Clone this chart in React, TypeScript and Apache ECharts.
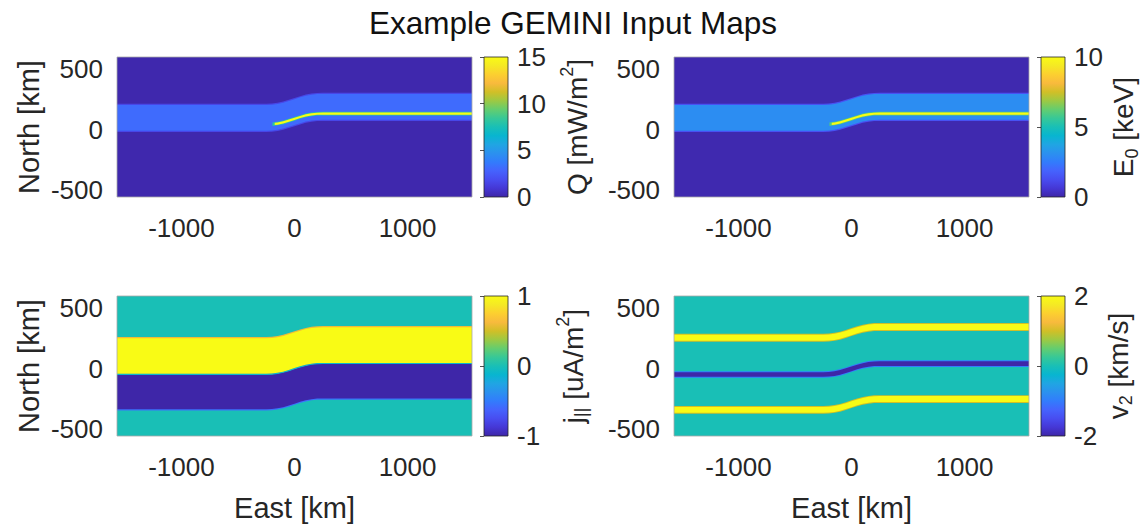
import React, { useEffect, useRef } from "react";
import * as echarts from "echarts";

// ---- axes ----
const eastMin = -1570;
const eastMax = 1570;
const northMin = -555;
const northMax = 600;
const eastTicks = [-1000, 0, 1000];
const northTicks = [-500, 0, 500];

// ---- arc boundary northward displacement vs. east ----
const shiftEast = [-1570, -250, -200, -150, -100, -50, 0, 50, 100, 150, 200, 250, 1570];
const shiftNorth = [0, 0, 2, 8, 18, 32, 47, 62, 75, 84, 89, 90, 90];

// ---- layers per map (north edges on the west side, value, first east position) ----
// Q [mW/m^2]
const qLower = [-2000, -18, -8, 28, 34];
const qUpper = [2000, 215, 205, 58, 52];
const qValue = [0.1, 1.6, 3.1, 8, 15];
const qStart = [-1570, -1570, -1570, -195, -175];
// E0 [keV]
const eLower = [-2000, -18, -8, 28, 34];
const eUpper = [2000, 215, 205, 58, 52];
const eValue = [0.1, 1.4, 3.0, 6, 10];
const eStart = [-1570, -1570, -1570, -195, -175];
// j_par [uA/m^2]
const jLower = [-2000, -345, -335, -48, -42, -52];
const jUpper = [2000, -48, -48, 262, 252, -42];
const jValue = [0, -0.55, -1, 0.6, 1, -0.1];
const jStart = [-1570, -1570, -1570, -1570, -1570, -1570];
// v2 [km/s]
const vLower = [-2000, 222, 230, -75, -67, -372, -364];
const vUpper = [2000, 288, 280, -21, -29, -308, -316];
const vValue = [0, 1, 2, -1, -2, 1, 2];
const vStart = [-1570, -1570, -1570, -1570, -1570, -1570, -1570];

// colour-bar ranges and ticks
const qRange = [0, 15];
const qBarTicks = [0, 5, 10, 15];
const eRange = [0, 10];
const eBarTicks = [0, 5, 10];
const jRange = [-1, 1];
const jBarTicks = [-1, 0, 1];
const vRange = [-2, 2];
const vBarTicks = [-2, 0, 2];

// parula
const parula = [
  "#3e26a8", "#4537d5", "#484df0", "#4563fd", "#327cfc", "#2b91ef", "#20a5e3",
  "#08b5d0", "#19bfb6", "#37c897", "#64cd6f", "#9dc943", "#d1bf27", "#f8ba3d",
  "#fccf30", "#f5e924", "#f9fb15",
];

const FONT = "'Liberation Sans', Arial, Helvetica, sans-serif";
const TXT = "#262626";

function shiftAt(x: number): number {
  for (let i = 0; i < shiftEast.length - 1; i++) {
    if (x >= shiftEast[i] && x <= shiftEast[i + 1]) {
      const t = (x - shiftEast[i]) / (shiftEast[i + 1] - shiftEast[i]);
      return shiftNorth[i] + t * (shiftNorth[i + 1] - shiftNorth[i]);
    }
  }
  return x < shiftEast[0] ? shiftNorth[0] : shiftNorth[shiftNorth.length - 1];
}

function layers(lo: number[], hi: number[], val: number[], st: number[]) {
  return lo.map((l, i) => [l, hi[i], val[i], st[i]]);
}

const renderBand = (params: any, api: any) => {
  const lo = api.value(0) as number;
  const hi = api.value(1) as number;
  const start = api.value(3) as number;
  const xs = [start, ...shiftEast.filter((x) => x > start)];
  const lower = xs.map((x) => api.coord([x, lo + shiftAt(x)]));
  const upper = xs.map((x) => api.coord([x, hi + shiftAt(x)])).reverse();
  return {
    type: "polygon",
    shape: { points: lower.concat(upper) },
    style: { fill: api.visual("color") },
  };
};

const makeBarRender = (min: number, max: number) => (params: any, api: any) => {
  const p0 = api.coord([0, min]);
  const p1 = api.coord([1, max]);
  const stops = parula.map((c, i) => ({ offset: i / (parula.length - 1), color: c }));
  return {
    type: "rect",
    shape: { x: p0[0], y: p1[1], width: p1[0] - p0[0], height: p0[1] - p1[1] },
    style: {
      fill: new echarts.graphic.LinearGradient(0, 1, 0, 0, stops),
      stroke: TXT,
      lineWidth: 0.8,
    },
  };
};

const richName = {
  n: { fontSize: 28, fontFamily: FONT, color: TXT, lineHeight: 34 },
  sup: { fontSize: 18, fontFamily: FONT, color: TXT, lineHeight: 34, padding: [0, 0, 20, 0] },
  sub: { fontSize: 18, fontFamily: FONT, color: TXT, lineHeight: 34, padding: [16, 0, 0, 0] },
};

const plainLabel = (v: number) => String(v);

export default function App() {
  const ref = useRef<HTMLDivElement>(null);
  useEffect(() => {
    if (!ref.current) return;
    const chart = echarts.init(ref.current, undefined, { renderer: "svg" });

    const panels = [
      { left: 117, top: 57, data: layers(qLower, qUpper, qValue, qStart), range: qRange, ticks: qBarTicks,
        barName: "{n|Q [mW/m}{sup|2}{n|]}", barGapName: 52, north: true, east: false },
      { left: 674, top: 57, data: layers(eLower, eUpper, eValue, eStart), range: eRange, ticks: eBarTicks,
        barName: "{n|E}{sub|0}{n| [keV]}", barGapName: 36, north: false, east: false },
      { left: 117, top: 296, data: layers(jLower, jUpper, jValue, jStart), range: jRange, ticks: jBarTicks,
        barName: "{n|j}{sub|||}{n| [uA/m}{sup|2}{n|]}", barGapName: 48, north: true, east: true },
      { left: 674, top: 296, data: layers(vLower, vUpper, vValue, vStart), range: vRange, ticks: vBarTicks,
        barName: "{n|v}{sub|2}{n| [km/s]}", barGapName: 36, north: false, east: true },
    ];
    const W = 355;
    const H = 140;
    const barGap = 12;
    const barW = 24;

    const grid: any[] = [];
    const xAxis: any[] = [];
    const yAxis: any[] = [];
    const series: any[] = [];
    const visualMap: any[] = [];

    panels.forEach((p, i) => {
      // map grid (thin light box drawn above the map, like the axes box)
      grid.push({
        left: p.left, top: p.top, width: W, height: H, outerBoundsMode: "none",
        show: true, z: 10, backgroundColor: "transparent", borderColor: "#a8a8a8", borderWidth: 0.8,
      });
      xAxis.push({
        type: "value", gridIndex: 2 * i, min: eastMin, max: eastMax,
        axisLine: { show: false }, axisTick: { show: false }, splitLine: { show: false },
        axisLabel: { customValues: eastTicks, formatter: plainLabel, fontSize: 26, fontFamily: FONT, color: TXT, margin: 18 },
        name: p.east ? "East [km]" : "", nameLocation: "middle", nameGap: 57,
        nameTextStyle: { fontSize: 29, fontFamily: FONT, color: TXT },
      });
      yAxis.push({
        type: "value", gridIndex: 2 * i, min: northMin, max: northMax,
        axisLine: { show: false }, axisTick: { show: false }, splitLine: { show: false },
        axisLabel: { customValues: northTicks, formatter: plainLabel, fontSize: 26, fontFamily: FONT, color: TXT, margin: 14 },
        name: p.north ? "North [km]" : "", nameLocation: "middle", nameGap: 74,
        nameTextStyle: { fontSize: 29, fontFamily: FONT, color: TXT },
      });
      // colour-bar grid
      grid.push({ left: p.left + W + barGap, top: p.top, width: barW, height: H, show: false, outerBoundsMode: "none" });
      xAxis.push({ type: "value", gridIndex: 2 * i + 1, min: 0, max: 1, show: false });
      yAxis.push({
        type: "value", gridIndex: 2 * i + 1, position: "right", min: p.range[0], max: p.range[1], z: 5,
        axisLine: { show: false }, splitLine: { show: false },
        axisTick: { show: true, inside: true, length: 4, customValues: p.ticks, lineStyle: { color: TXT, width: 0.8 } },
        axisLabel: { customValues: p.ticks, formatter: plainLabel, fontSize: 26, fontFamily: FONT, color: TXT, margin: 9 },
        name: p.barName, nameLocation: "middle", nameGap: p.barGapName, nameRotate: 90,
        nameTextStyle: { rich: richName, fontSize: 28, fontFamily: FONT, color: TXT },
      });

      series.push({
        type: "custom", xAxisIndex: 2 * i, yAxisIndex: 2 * i, clip: true,
        renderItem: renderBand, data: p.data, encode: { x: 3, y: 0 },
      });
      visualMap.push({
        type: "continuous", show: false, seriesIndex: 2 * i, dimension: 2,
        min: p.range[0], max: p.range[1], inRange: { color: parula },
      });
      series.push({
        type: "custom", xAxisIndex: 2 * i + 1, yAxisIndex: 2 * i + 1,
        renderItem: makeBarRender(p.range[0], p.range[1]), data: [[0, p.range[0]]],
      });
    });

    chart.setOption({
      animation: false,
      backgroundColor: "#ffffff",
      title: {
        text: "Example GEMINI Input Maps", left: "center", top: 2,
        textStyle: { fontSize: 31.5, fontWeight: "normal", fontFamily: FONT, color: "#111" },
      },
      grid, xAxis, yAxis, series, visualMap,
    });
    return () => chart.dispose();
  }, []);
  return (
    <div
      ref={ref}
      style={{ position: "absolute", left: 0, top: 0, width: 1146, height: 525, background: "#fff" }}
    />
  );
}
